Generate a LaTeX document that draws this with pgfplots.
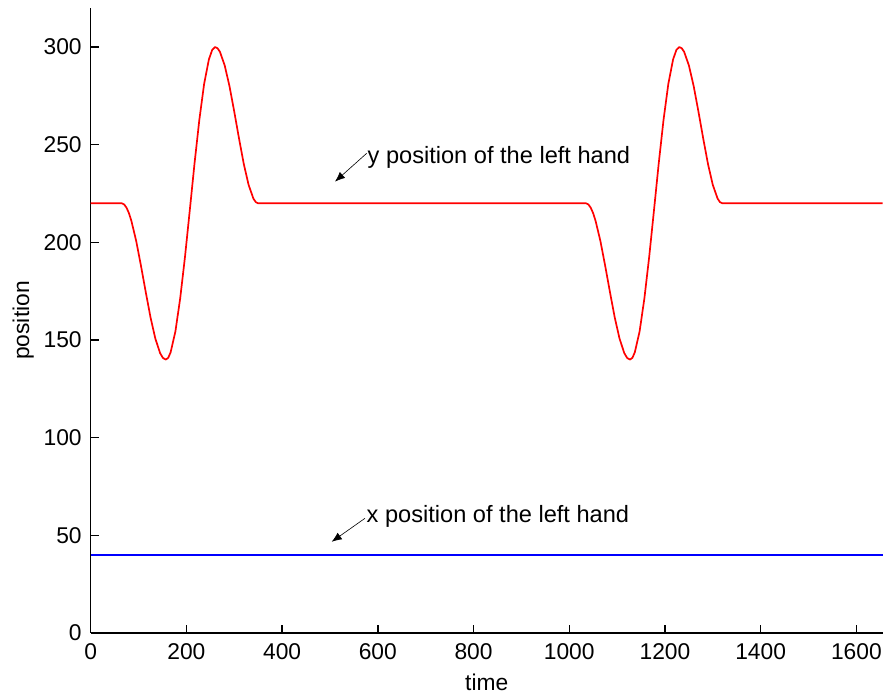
\documentclass[border=0pt]{standalone}
\usepackage{fontspec}
\setmainfont{Liberation Sans}
\usepackage{pgfplots}
\pgfplotsset{compat=1.18}
\usetikzlibrary{arrows.meta}
\newcommand\f{\fontsize{11.4pt}{13pt}\selectfont}
\newcommand\g{\fontsize{11.8pt}{13pt}\selectfont}
\begin{document}
\begin{tikzpicture}
\useasboundingbox (0,0) rectangle (441.5pt,347.5pt);
\begin{axis}[
  at={(45.35pt,31pt)}, anchor=south west,
  scale only axis, width=396pt, height=312.5pt,
  xmin=0, xmax=1655, ymin=0, ymax=320,
  axis lines*=left,
  axis line style={line width=0.7pt, black},
  tick align=inside, major tick length=4pt,
  tick style={line width=0.7pt, black},
  xtick={0,200,...,1600}, ytick={0,50,...,300},
  /pgf/number format/assume math mode=true,
  /pgf/number format/1000 sep={},
  tick label style={font=\f},
  xticklabel style={yshift=-2pt},
  yticklabel style={xshift=-1pt},
  xlabel={\f time}, ylabel={\f position},
  xlabel style={yshift=0pt},
  ylabel style={yshift=-2pt},
  clip=false,
]
\addplot[red, line width=0.85pt, line join=round] coordinates {
(0,220) (65,220) (70,219.4) (75,217.7) (80,214.9) (85,211.0) (95,200.8) (105,188.1) (115,174.6) (125,161.6) (135,150.8) (145,143.3) (151,140.8) (157,140)
(162,140.9) (167,143.7) (177,154.4) (187,171.3) (197,192.5) (207,216.3) (217,240.5) (227,262.7) (237,281.1) (247,293.7) (254,298.6) (260,300)
(265,299.4) (270,297.6) (280,290.6) (290,280) (300,266.9) (310,253.1) (320,240) (330,229.4) (340,222.4) (345,220.6) (350,220)
(1035,220) (1040,219.4) (1045,217.7) (1050,214.9) (1055,211.0) (1065,200.8) (1075,188.1) (1085,174.6) (1095,161.6) (1105,150.8) (1115,143.3) (1121,140.8) (1127,140)
(1132,140.9) (1137,143.7) (1147,154.4) (1157,171.3) (1167,192.5) (1177,216.3) (1187,240.5) (1197,262.7) (1207,281.1) (1217,293.7) (1224,298.6) (1230,300)
(1235,299.4) (1240,297.6) (1250,290.6) (1260,280) (1270,266.9) (1280,253.1) (1290,240) (1300,229.4) (1310,222.4) (1315,220.6) (1320,220) (1655,220)
};
\addplot[blue, line width=0.85pt] coordinates {(0,40) (1655,40)};
\draw[-{Latex[length=5pt,width=4pt]}, line width=0.3pt] (axis cs:576.7,245.6) -- (axis cs:510.5,231.1);
\node[anchor=west, inner sep=0pt, font=\g] at (axis cs:578,243.7) {y position of the left hand};
\draw[-{Latex[length=5pt,width=4pt]}, line width=0.3pt] (axis cs:573,58.7) -- (axis cs:503.6,46.7);
\node[anchor=west, inner sep=0pt, font=\g] at (axis cs:576,59.9) {x position of the left hand};
\end{axis}
\end{tikzpicture}
\end{document}
